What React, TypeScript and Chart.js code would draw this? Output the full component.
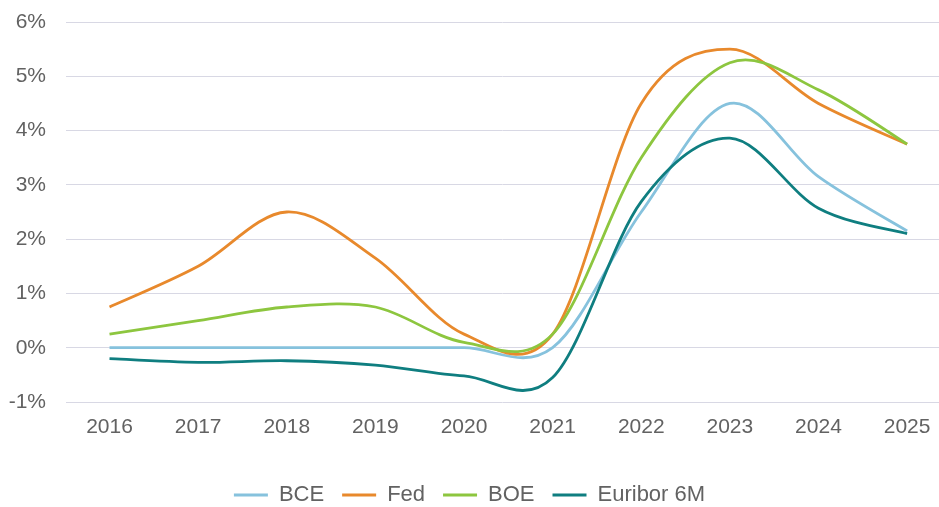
import { useEffect, useRef } from 'react';
import { Chart, registerables } from 'chart.js';

Chart.register(...registerables);

const years = [2016, 2017, 2018, 2019, 2020, 2021, 2022, 2023, 2024, 2025];
const yTickValues = [-1, 0, 1, 2, 3, 4, 5, 6];
const seriesNames = ['BCE', 'Fed', 'BOE', 'Euribor 6M'];
const bce = [0, 0, 0, 0, 0, 0, 2.5, 4.5, 3.15, 2.15];
const fed = [0.75, 1.5, 2.5, 1.65, 0.25, 0.25, 4.5, 5.5, 4.5, 3.75];
const boe = [0.25, 0.5, 0.75, 0.75, 0.1, 0.25, 3.5, 5.25, 4.75, 3.75];
const euribor = [-0.2, -0.27, -0.24, -0.32, -0.52, -0.55, 2.69, 3.86, 2.57, 2.1];
const seriesColors = ['#86c2dd', '#e8892c', '#8dc63f', '#0f7e80'];

function fontAvailable(name: string): boolean {
  const c = document.createElement('canvas').getContext('2d');
  if (!c) return false;
  const sample = 'Euribor 2016% BCE';
  c.font = '40px monospace';
  const w1 = c.measureText(sample).width;
  c.font = `40px "${name}", monospace`;
  const w2 = c.measureText(sample).width;
  return Math.abs(w1 - w2) > 0.5;
}

// Excel-like smoothing: uniform Catmull-Rom control points from the library's own point positions
const catmullRomPlugin = {
  id: 'catmullRom',
  beforeDatasetDraw(chart: any, args: any) {
    const meta = args.meta;
    const line = meta && meta.dataset;
    if (!line || !line.points) return;
    line.updateControlPoints(chart.chartArea, meta.iScale ? meta.iScale.axis : 'x');
    const pts = line.points;
    const n = pts.length;
    for (let i = 0; i < n; i++) {
      const p = pts[i];
      const prev = pts[Math.max(0, i - 1)];
      const next = pts[Math.min(n - 1, i + 1)];
      const dx = (next.x - prev.x) / 6;
      const dy = (next.y - prev.y) / 6;
      p.cp1x = p.x - dx;
      p.cp1y = p.y - dy;
      p.cp2x = p.x + dx;
      p.cp2y = p.y + dy;
    }
  },
};

export default function App() {
  const ref = useRef<HTMLCanvasElement | null>(null);

  useEffect(() => {
    if (!ref.current) return;
    const narrow = fontAvailable('Liberation Sans Narrow');
    const family = narrow ? '"Liberation Sans Narrow", "Liberation Sans", Arial, sans-serif' : '"Liberation Sans", Arial, sans-serif';
    const size = narrow ? 25 : 21;
    const legendSize = narrow ? 26 : 22;
    const textColor = '#626262';
    const allSeries = [bce, fed, boe, euribor];

    const chart = new Chart(ref.current, {
      type: 'line',
      data: {
        datasets: allSeries.map((vals, i) => ({
          label: seriesNames[i],
          data: vals.map((v, j) => ({ x: years[j], y: v })),
          borderColor: seriesColors[i],
          backgroundColor: seriesColors[i],
          borderWidth: 2.8,
          pointRadius: 0,
          pointHoverRadius: 0,
          tension: 0.4,
          fill: false,
          order: allSeries.length - i,
        })),
      },
      options: {
        animation: false,
        responsive: true,
        maintainAspectRatio: false,
        layout: { padding: { top: 22, left: 0, right: 0, bottom: -9 } },
        plugins: {
          tooltip: { enabled: false },
          legend: {
            position: 'bottom',
            labels: {
              usePointStyle: true,
              pointStyle: 'line',
              pointStyleWidth: 34,
              padding: 18,
              color: textColor,
              font: { family, size: legendSize },
              sort: (a: any, b: any) => a.datasetIndex - b.datasetIndex,
            },
          },
        },
        scales: {
          x: {
            type: 'linear',
            min: 2015.509,
            max: 2025.36,
            afterBuildTicks: (s: any) => {
              s.ticks = years.map((v) => ({ value: v }));
            },
            afterFit: (s: any) => {
              s.height = 64;
              s.paddingLeft = 0;
              s.paddingRight = 0;
            },
            grid: { display: false, drawTicks: false },
            border: { display: false },
            ticks: {
              color: textColor,
              font: { family, size },
              padding: 13,
              maxRotation: 0,
              autoSkip: false,
              callback: (v: any) => String(v),
            },
          },
          y: {
            type: 'linear',
            min: -1,
            max: 6,
            afterBuildTicks: (s: any) => {
              s.ticks = yTickValues.map((v) => ({ value: v }));
            },
            afterFit: (s: any) => {
              s.width = 66;
              s.paddingTop = 0;
              s.paddingBottom = 0;
            },
            grid: { color: '#d8d8e4', lineWidth: 1, drawTicks: false },
            border: { display: false },
            ticks: {
              color: textColor,
              font: { family, size },
              padding: 20,
              callback: (v: any) => `${v}%`,
            },
          },
        },
      },
      plugins: [catmullRomPlugin],
    });
    return () => chart.destroy();
  }, []);

  return (
    <div style={{ position: 'fixed', left: 0, top: 0, width: 939, height: 507, background: '#fff' }}>
      <canvas ref={ref} />
    </div>
  );
}
